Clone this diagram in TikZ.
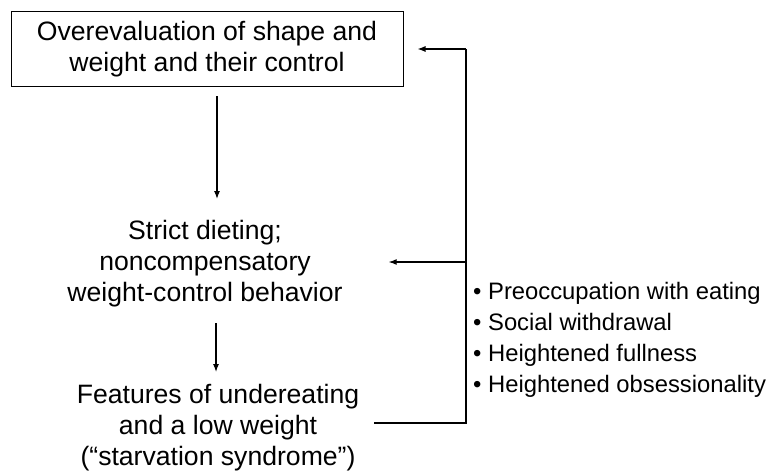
\documentclass[tikz,border=0pt]{standalone}
\usepackage{fontspec}
\setmainfont{Liberation Sans}
\usepackage{tikz}
\usetikzlibrary{arrows.meta,positioning,calc}
\tikzset{
  stage/.style={align=center, inner sep=0pt, font=\fontsize{26.6}{31}\selectfont},
  boxed/.style={stage, rectangle, draw=black, line width=1pt, minimum width=392pt, minimum height=75pt},
  notes/.style={align=left, inner sep=0pt, anchor=west, font=\fontsize{23.8}{31}\selectfont},
  flow/.style={-{Latex[length=8pt,width=6pt]}, line width=1.1pt, draw=black},
  rail/.style={line width=1.1pt, draw=black} % feedback line, no tip
}

\begin{document}
\begin{tikzpicture}[x=1pt, y=1pt]
  \useasboundingbox (0,0) rectangle (767,472);

  % Main chain
  \node[boxed] (top)  at (207,422.5) {Overevaluation of shape and\\weight and their control};
  \node[stage] (diet) at (205,208)   {Strict dieting;\\noncompensatory\\weight-control behavior};
  \node[stage] (feat) at (218,44)    {Features of undereating\\and a low weight\\(“starvation syndrome”)};

  \draw[flow, shorten <=9pt] ([xshift=10pt]top.south) -- ([xshift=12pt]diet.north |- 0,273);
  \draw[flow] ([xshift=11pt]diet.south |- 0,149) -- ([xshift=-2pt]feat.north |- 0,100);

  % Feedback from starvation features
  \coordinate (railtop) at (466,423);
  \coordinate (railbot) at (466,49);
  \draw[rail] ([xshift=15pt,yshift=5pt]feat.east) -- (railbot) -- (railtop);
  \draw[flow] (railtop) -- ([xshift=14pt]top.east |- railtop);
  \draw[flow] (railtop |- 0,210) -- ([xshift=46pt]diet.east |- 0,210);

  \node[notes] (signs) at (473,132) {• Preoccupation with eating\\• Social withdrawal\\• Heightened fullness\\• Heightened obsessionality};

\end{tikzpicture}
\end{document}
